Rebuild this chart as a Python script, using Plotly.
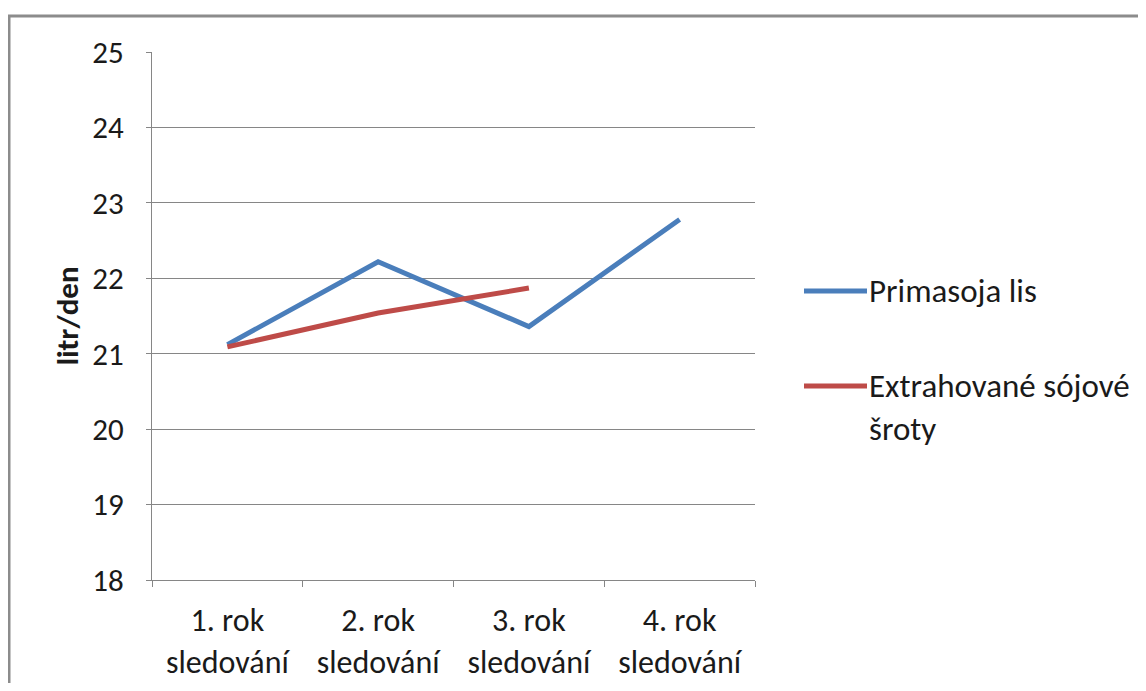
import plotly.graph_objects as go

categories = ["1. rok<br>sledování", "2. rok<br>sledování", "3. rok<br>sledování", "4. rok<br>sledování"]
primasoja = [21.12, 22.22, 21.36, 22.78]
extrahovane = [21.09, 21.54, 21.87, None]
series_names = ["Primasoja lis", "Extrahované sójové<br>šroty"]
colors = ["#4A7EBB", "#BE4B48"]
y_ticks = [18, 19, 20, 21, 22, 23, 24, 25]

FONT = "Carlito, Calibri, Lato, sans-serif"
OFF = 8  # page body margin
W, H = 1130, 675
L, T = 152 - OFF, 52 - OFF
pw, ph = 603, 528
R = W - L - pw
B = H - T - ph

fig = go.Figure()
for name, vals, col in zip(series_names, [primasoja, extrahovane], colors):
    fig.add_trace(go.Scatter(x=categories, y=vals, mode="lines", name=name,
                             line=dict(color=col, width=5), showlegend=False,
                             connectgaps=False))

def px_x(px):
    return (px - OFF - L) / pw

def px_y(py):
    return (T + ph - (py - OFF)) / ph

shapes = [
    dict(type="rect", xref="paper", yref="paper",
         x0=px_x(9), x1=px_x(1170), y0=px_y(720), y1=px_y(16),
         line=dict(color="#8C8C8C", width=3), fillcolor="rgba(0,0,0,0)", layer="below"),
]
annotations = []
leg_y = [291, 386]
for name, col, yy in zip(series_names, colors, leg_y):
    shapes.append(dict(type="line", xref="paper", yref="paper",
                       x0=px_x(804), x1=px_x(867), y0=px_y(yy), y1=px_y(yy),
                       line=dict(color=col, width=5)))
    annotations.append(dict(xref="paper", yref="paper", x=px_x(867), y=px_y(yy - 22),
                            text=name, showarrow=False, xanchor="left", yanchor="top",
                            align="left", font=dict(family=FONT, size=33, color="#1a1a1a")))

fig.update_layout(
    width=W, height=H,
    margin=dict(l=L, r=R, t=T, b=B, autoexpand=False),
    paper_bgcolor="white", plot_bgcolor="white",
    font=dict(family=FONT, size=32, color="#1a1a1a"),
    shapes=shapes, annotations=annotations,
    xaxis=dict(type="category", showgrid=False, showline=True, linecolor="#868686", linewidth=1,
               ticks="outside", tickson="boundaries", ticklen=6, tickcolor="#868686",
               tickfont=dict(family=FONT, size=32), ticklabelstandoff=12, range=[-0.5, 3.5],
               automargin=False),
    yaxis=dict(range=[18, 25], tickvals=y_ticks, showgrid=True, gridcolor="#868686", gridwidth=1,
               showline=True, linecolor="#868686", linewidth=1, ticks="outside", ticklen=5,
               tickcolor="#868686", tickfont=dict(family=FONT, size=31), ticklabelstandoff=16,
               zeroline=False, automargin=False,
               title=dict(text="<b>litr/den</b>", font=dict(family=FONT, size=31), standoff=4)),
)

fig.write_html("out.html")
